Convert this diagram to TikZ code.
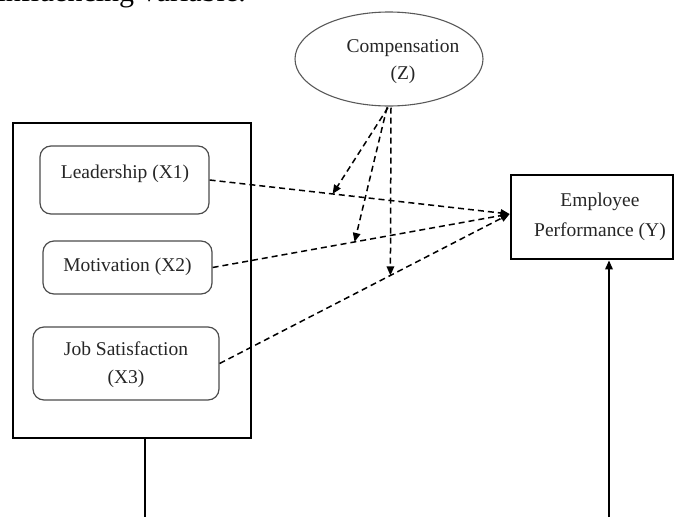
\documentclass[tikz,border=0pt]{standalone}
\usepackage{fontspec}
\setmainfont{Liberation Serif}
\usetikzlibrary{arrows.meta,shapes.geometric}
\begin{document}
\begin{tikzpicture}[x=1pt,y=-1pt,
  lbl/.style={font=\fontsize{19.5}{27}\selectfont, inner sep=0pt, align=center, text=black!85},
  varbox/.style={draw=black!70, line width=1.2pt, rounded corners=11pt, inner sep=0pt},
  depbox/.style={draw=black, line width=2.8pt, inner sep=0pt},
  grpbox/.style={draw=black, line width=2pt, inner sep=0pt},
  modellipse/.style={draw=black!65, line width=1.1pt, ellipse, inner sep=0pt},
  dashedarrow/.style={dash pattern=on 6pt off 4pt, line width=1.5pt, -{Triangle[length=9pt,width=7.5pt]}},
  solidarrow/.style={line width=1.7pt, -{Triangle[length=9pt,width=7.5pt]}},
  solidline/.style={line width=1.7pt}
]
\useasboundingbox (0,0) rectangle (675,517);
\clip (0,0) rectangle (675,517);

% clipped body text at the top
\node[font=\fontsize{30}{36}\selectfont, anchor=base east, inner sep=0pt] (toptext) at (246,1.5) {influencing variable.};

% moderator
\node[modellipse, minimum width=188, minimum height=94] (Z) at (389,59) {};
\node[lbl] (Zt) at (403,62) {Compensation\\(Z)};

% group box
\node[grpbox, minimum width=238, minimum height=315, anchor=north west] (G) at (12,122) {};

% independent variables
\node[varbox, minimum width=169, minimum height=68] (L) at (124.5,180) {};
\node[lbl, anchor=base] (Lt) at (125,178) {Leadership (X1)};

\node[varbox, minimum width=169, minimum height=53] (M) at (127.5,267.5) {};
\node[lbl, anchor=base] (Mt) at (127.5,271) {Motivation (X2)};

\node[varbox, minimum width=186, minimum height=73] (J) at (126,363.5) {};
\node[lbl, font=\fontsize{19.5}{28}\selectfont] (Jt) at (126,365) {Job Satisfaction\\(X3)};

% dependent variable
\node[depbox, minimum width=162, minimum height=84] (E) at (592,217) {};
\node[lbl, font=\fontsize{19.5}{30}\selectfont] (Et) at (600,217) {Employee\\Performance (Y)};

% dashed paths to Y
\draw[dashedarrow] (L.east) -- coordinate[pos=0.41] (m1) ([yshift=3pt]E.west);
\draw[dashedarrow] (M.east) -- coordinate[pos=0.478] (m2) ([yshift=3pt]E.west);
\draw[dashedarrow] (J.east) -- coordinate[pos=0.589] (m3) ([yshift=3pt]E.west);

% moderating arrows
\draw[dashedarrow] ([xshift=-1pt,yshift=-1pt]Z.south) -- (m1);
\draw[dashedarrow] ([xshift=-2pt,yshift=-1pt]Z.south) -- (m2);
\draw[dashedarrow] ([xshift=2pt,yshift=-1pt]Z.south) -- (m3);

% solid lines leaving the picture
\coordinate (b1) at (145,517);
\coordinate (b2) at (609,517);
\draw[solidline] (b1 |- G.south) -- (b1);
\draw[solidarrow] (b2) -- (b2 |- E.south);
\end{tikzpicture}
\end{document}
